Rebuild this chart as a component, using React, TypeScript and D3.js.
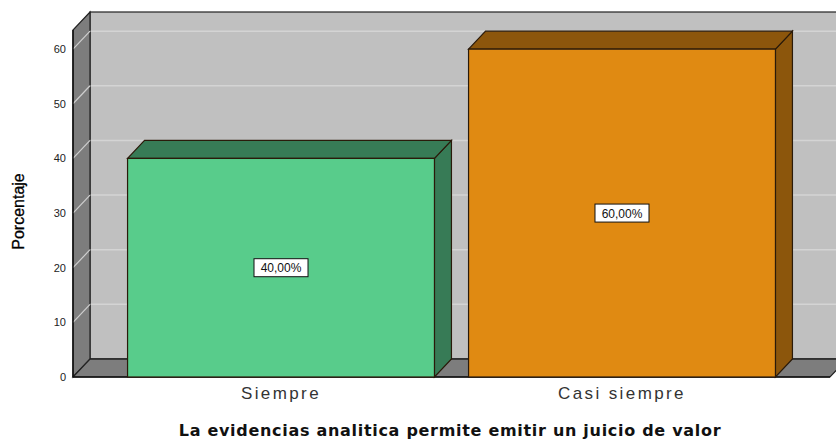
import React from "react";
import * as d3 from "d3";

const categories = ["Siempre", "Casi siempre"];
const values = [40, 60];
const valueLabels = ["40,00%", "60,00%"];
const tickValues = [0, 10, 20, 30, 40, 50, 60];
const frontColors = ["#58cc8b", "#e08a12"];
const sideColors = ["#377b56", "#8c560c"];

const W = 836, H = 439;
// 3d depth offset
const DX = 17, DY = -18;

export default function App() {
  const y = d3.scaleLinear().domain([0, 63.5]).range([377, 30]);
  const x = d3.scaleBand<string>().domain(categories).range([73, 830]).paddingInner(0.1).paddingOuter(0.16);
  const x0 = 73, x1 = 830, y0 = y(0), yTop = y(63.5);

  const poly = (pts: number[][]) => "M" + pts.map((p) => p.join(",")).join("L") + "Z";

  return (
    <svg width={W} height={H} style={{ display: "block", position: "absolute", left: 0, top: 0, background: "#fff" }}>
      {/* back wall */}
      <rect x={x0 + DX} y={yTop + DY} width={W} height={y0 - yTop} fill="#c0c0c0" stroke="#222" strokeWidth={1.2} />
      {tickValues.slice(1).map((t) => (
        <line key={"g" + t} x1={x0 + DX} x2={W} y1={y(t) + DY} y2={y(t) + DY} stroke="#d4d4d4" strokeWidth={1.5} />
      ))}
      {/* left side panel */}
      <path d={poly([[x0, y0], [x0, yTop], [x0 + DX, yTop + DY], [x0 + DX, y0 + DY]])} fill="#7d7d7d" stroke="#222" strokeWidth={1.2} />
      {tickValues.slice(1).map((t) => (
        <line key={"d" + t} x1={x0} y1={y(t)} x2={x0 + DX} y2={y(t) + DY} stroke="#cfcfcf" strokeWidth={1.2} />
      ))}
      {/* floor */}
      <path d={poly([[x0, y0], [x1, y0], [x1 + DX, y0 + DY], [x0 + DX, y0 + DY]])} fill="#7d7d7d" stroke="#222" strokeWidth={1.2} />
      <line x1={x0 + DX} x2={W} y1={y0 + DY} y2={y0 + DY} stroke="#222" strokeWidth={1.2} />
      <line x1={x0} x2={x0} y1={yTop} y2={y0} stroke="#111" strokeWidth={1.5} />
      <line x1={x0} x2={x1} y1={y0} y2={y0} stroke="#111" strokeWidth={1.5} />

      {/* bars */}
      {categories.map((c, i) => {
        const bx = x(c)!, bw = x.bandwidth(), by = y(values[i]);
        return (
          <g key={c}>
            <path d={poly([[bx + bw, by], [bx + bw + DX, by + DY], [bx + bw + DX, y0 + DY], [bx + bw, y0]])} fill={sideColors[i]} stroke="#2a1a0a" strokeWidth={1.2} />
            <path d={poly([[bx, by], [bx + DX, by + DY], [bx + bw + DX, by + DY], [bx + bw, by]])} fill={sideColors[i]} stroke="#2a1a0a" strokeWidth={1.2} />
            <rect x={bx} y={by} width={bw} height={y0 - by} fill={frontColors[i]} stroke="#2a1a0a" strokeWidth={1.2} />
            <rect x={bx + bw / 2 - 27} y={(by + y0) / 2 - 9} width={54} height={18} fill="#fff" stroke="#111" strokeWidth={1} />
            <text x={bx + bw / 2} y={(by + y0) / 2 + 4.5} textAnchor="middle" fontFamily="Liberation Sans, Arial, sans-serif" fontSize={12} fill="#111">
              {valueLabels[i]}
            </text>
            <text x={bx + bw / 2} y={399} textAnchor="middle" fontFamily="Liberation Sans, Arial, sans-serif" fontSize={17} letterSpacing={2.4} fill="#333">
              {c}
            </text>
          </g>
        );
      })}

      {/* y tick labels */}
      {tickValues.map((t) => (
        <text key={"t" + t} x={66} y={y(t) + 4} textAnchor="end" fontFamily="Liberation Sans, Arial, sans-serif" fontSize={11} fill="#222">
          {t}
        </text>
      ))}
      <text transform={`translate(24,${(y0 + yTop) / 2 + 8}) rotate(-90)`} textAnchor="middle" fontFamily="Liberation Sans Narrow, Liberation Sans, Arial, sans-serif" fontSize={16} fill="#000" stroke="#000" strokeWidth={0.3}>
        Porcentaje
      </text>
      <text x={450} y={436} textAnchor="middle" fontFamily="DejaVu Sans, Verdana, sans-serif" fontWeight="bold" fontSize={16} letterSpacing={0.7} fill="#111">
        La evidencias analitica permite emitir un juicio de valor
      </text>
    </svg>
  );
}
